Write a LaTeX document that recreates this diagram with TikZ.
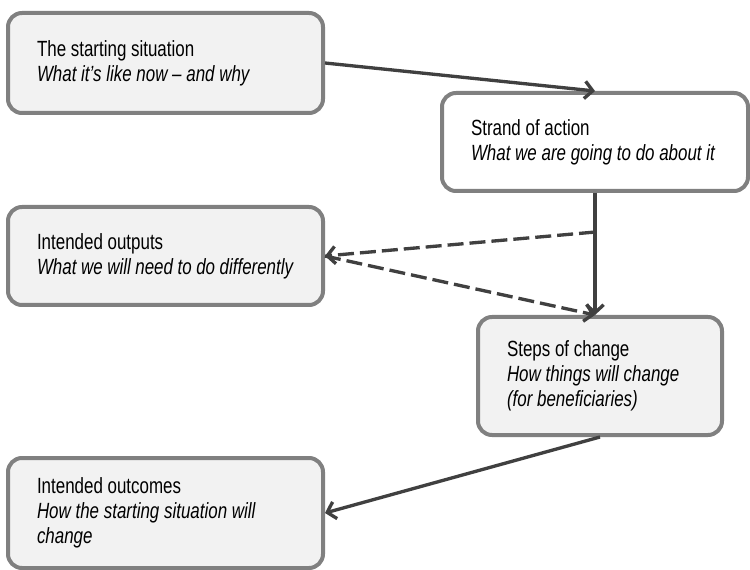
\documentclass[tikz,border=0pt]{standalone}
\usepackage{fontspec}
\setmainfont{Liberation Sans}[FakeStretch=0.77]
\usetikzlibrary{arrows.meta,calc}
\definecolor{boxline}{HTML}{808080}
\definecolor{boxfill}{HTML}{F2F2F2}
\definecolor{arrowline}{HTML}{404040}
\begin{document}
\begin{tikzpicture}[x=0.75pt,y=-0.75pt,stage/.style={shape=rectangle,draw=boxline,line width=3pt,rounded corners=10.5pt,fill=boxfill,align=flush left,inner xsep=21.75pt,inner ysep=0pt,font=\fontsize{16.5pt}{18.75pt}\selectfont},stageW/.style={stage,fill=white},link/.style={draw=arrowline,line width=2.5pt,-{Straight Barb[length=6pt,width=13pt]}},linkD/.style={link,dash pattern=on 12pt off 4.5pt}]
\def\wide{236.25pt};
\def\twide{192.75pt};

\useasboundingbox (0,0) rectangle (750,570);

\node[stage,minimum width=\wide,minimum height=75pt,text width=\twide] (start) at (165.5,63) {The starting situation\\\textit{What it’s like now – and why}};
\node[stageW,minimum width=229.5pt,minimum height=73.5pt,text width=186pt] (action) at (595,142) {Strand of action\\\textit{What we are going to do about it}};
\node[stage,minimum width=\wide,minimum height=73.5pt,text width=\twide] (outputs) at (165.5,256) {Intended outputs\\\textit{What we will need to do differently}};
\node[stage,minimum width=183pt,minimum height=88.5pt,text width=139.5pt] (steps) at (600,376) {Steps of change\\\textit{How things will change}\\\textit{(for beneficiaries)}};
\node[stage,minimum width=\wide,minimum height=82.5pt,text width=\twide] (outcomes) at (165.5,513) {Intended outcomes\\\textit{How the starting situation will}\\\textit{change}};

\draw[link] (start.east) -- (action.north);
\draw[link] (action.south) -- (action.south |- steps.north);
\coordinate (split) at ($(action.south)!0.32!(action.south |- steps.north)$);
\draw[linkD] (split) -- (outputs.east);
\draw[linkD] (outputs.east) -- (action.south |- steps.north);
\draw[link] (steps.south) -- (outcomes.east);
\end{tikzpicture}
\end{document}
